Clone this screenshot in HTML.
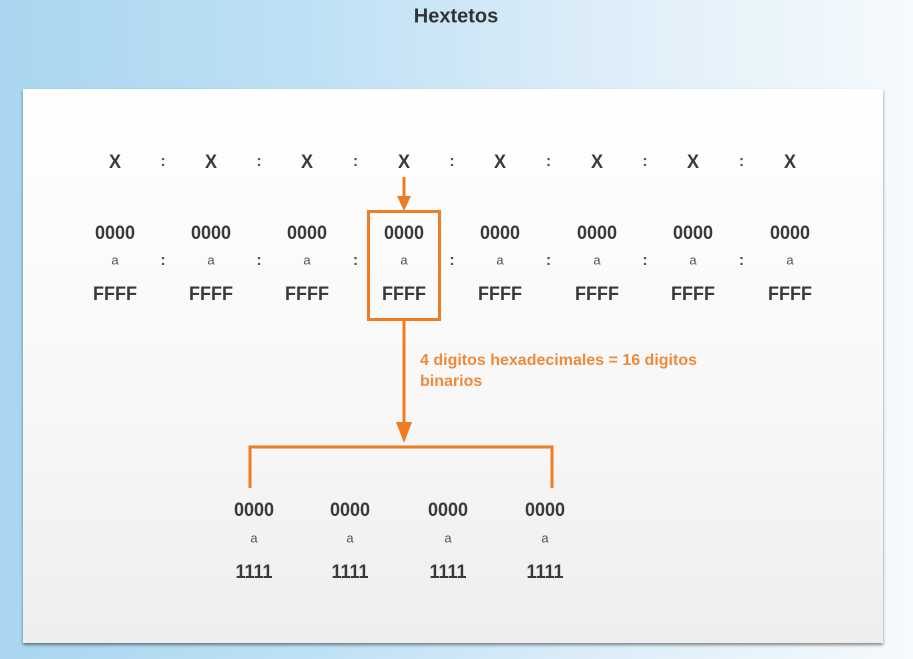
<!DOCTYPE html>
<html><head><meta charset="utf-8"><style>
html,body{margin:0;padding:0}
body{width:913px;height:659px;position:relative;overflow:hidden;font-family:"Liberation Sans",Arial,sans-serif;background:linear-gradient(90deg,#a9d6f0 0%,#bfe1f5 35%,#dcedf8 65%,#f6fafd 100%)}
.t{position:absolute;transform:translate(-50%,-50%);white-space:nowrap;color:#3a3a3a}
.b{font-weight:bold;font-size:18px;transform:translate(-50%,-50%) scaleY(1.1)}
.a{font-size:13px;color:#555}
.c{font-size:16px;font-weight:bold;color:#555}
</style></head><body>
<div class="t" style="left:456px;top:17px;font-size:20px;font-weight:bold;color:#333">Hextetos</div>
<div style="position:absolute;left:23px;top:89px;width:860px;height:554px;background:linear-gradient(180deg,#ffffff 0%,#f7f7f7 60%,#eeeeee 100%);box-shadow:0 2px 3px rgba(0,0,0,0.45)"></div>
<svg width="913" height="659" style="position:absolute;left:0;top:0">
<g stroke="#f07c22" stroke-width="3" fill="none">
<line x1="404" y1="177" x2="404" y2="200"/>
<rect x="368.5" y="211.5" width="71" height="108"/>
<line x1="404" y1="320" x2="404" y2="428"/>
<polyline points="250,488 250,447 552,447 552,488"/>
</g>
<polygon points="397,196 411,196 404,211" fill="#f07c22"/>
<polygon points="396,422 412,422 404,443" fill="#f07c22"/>
</svg>
<div style="position:absolute;left:420px;top:350px;font-size:16px;font-weight:bold;color:#f08a3a;line-height:21px">4 digitos hexadecimales = 16 digitos<br>binarios</div>
<script>
const xs=[115,211,307,404,500,597,693,790];
const bx=[254,350,448,545];
const root=document.body;
function add(x,y,txt,cls,name){const d=document.createElement('div');d.className='t '+cls;d.style.left=x+'px';d.style.top=y+'px';d.textContent=txt;


root.appendChild(d);}
xs.forEach((x,i)=>{add(x,162,'X','b','hextet-x');add(x,233,'0000','b','hextet-min');add(x,260,'a','a','hextet-to');add(x,294,'FFFF','b','hextet-max');
if(i<7){const cx=(x+xs[i+1])/2;add(cx,162,':','c','colon');add(cx,261,':','c','colon');}});
bx.forEach(x=>{add(x,510,'0000','b','nibble-min');add(x,538,'a','a','nibble-to');add(x,572,'1111','b','nibble-max');});
</script>
</body></html>
